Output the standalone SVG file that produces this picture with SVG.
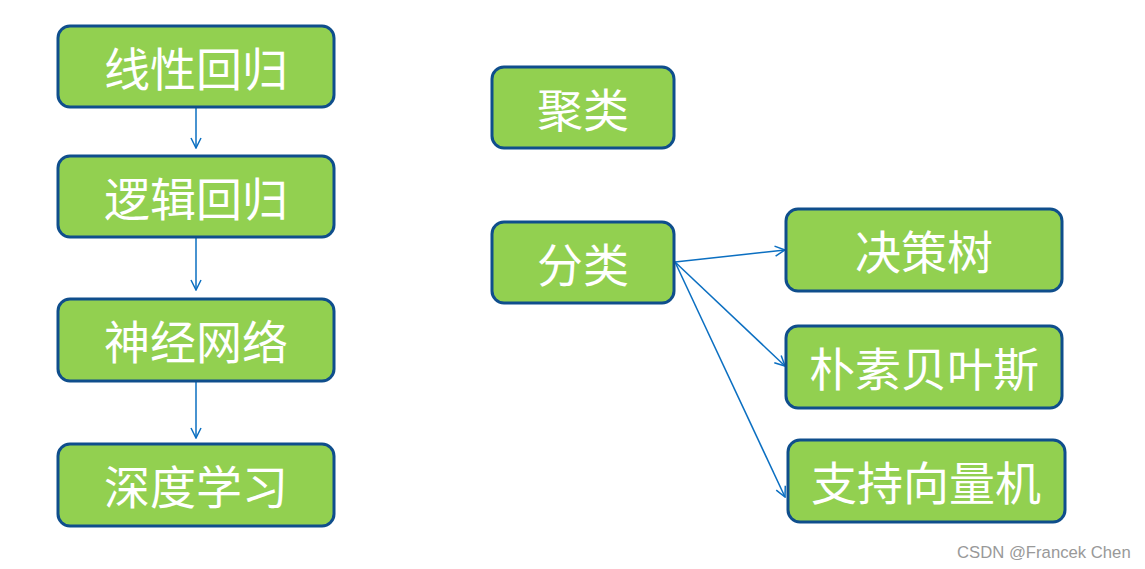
<svg xmlns="http://www.w3.org/2000/svg" width="1145" height="569" viewBox="0 0 1145 569">
<style>
.node rect{fill:#92D050;stroke:#0F4E8C;stroke-width:3}
.node text{fill:#FFFFFF;font-family:"Noto Sans CJK SC","Noto Sans CJK JP",sans-serif;font-size:46px;text-anchor:middle;dominant-baseline:central}
.conn line{stroke:#0B6FC1;stroke-width:1.5;fill:none}
.wm{fill:#999999;font-family:"Liberation Sans",Arial,sans-serif;font-size:16.7px}
</style>
<defs>
<marker id="arr" viewBox="0 0 12 12" refX="11" refY="6" markerWidth="12" markerHeight="12" markerUnits="userSpaceOnUse" orient="auto">
<path d="M1,1 L11,6 L1,11" fill="none" stroke="#0B6FC1" stroke-width="1.5"/>
</marker>
</defs>
<rect width="1145" height="569" fill="#FFFFFF"/>
<g id="connectors" class="conn">
<line x1="196" y1="108" x2="196" y2="148" marker-end="url(#arr)"/>
<line x1="196" y1="238" x2="196" y2="290" marker-end="url(#arr)"/>
<line x1="196" y1="382" x2="196" y2="438" marker-end="url(#arr)"/>
<line x1="675" y1="262" x2="785" y2="250" marker-end="url(#arr)"/>
<line x1="675" y1="262" x2="785" y2="366" marker-end="url(#arr)"/>
<line x1="675" y1="262" x2="785" y2="497" marker-end="url(#arr)"/>
</g>
<g id="n1" class="node"><rect x="58" y="26" width="276" height="81" rx="12"/><text x="196" y="66">线性回归</text></g>
<g id="n2" class="node"><rect x="58" y="156" width="276" height="81" rx="12"/><text x="196" y="196">逻辑回归</text></g>
<g id="n3" class="node"><rect x="58" y="299" width="276" height="82" rx="12"/><text x="196" y="339">神经网络</text></g>
<g id="n4" class="node"><rect x="58" y="444" width="276" height="82" rx="12"/><text x="196" y="484">深度学习</text></g>
<g id="n5" class="node"><rect x="492" y="67" width="182" height="81" rx="12"/><text x="583" y="107">聚类</text></g>
<g id="n6" class="node"><rect x="492" y="222" width="182" height="81" rx="12"/><text x="583" y="262">分类</text></g>
<g id="n7" class="node"><rect x="786" y="209" width="276" height="82" rx="12"/><text x="924" y="249">决策树</text></g>
<g id="n8" class="node"><rect x="786" y="326" width="276" height="82" rx="12"/><text x="924" y="366">朴素贝叶斯</text></g>
<g id="n9" class="node"><rect x="788" y="440" width="277" height="82" rx="12"/><text x="926" y="480">支持向量机</text></g>
<text class="wm" x="957" y="558">CSDN @Francek Chen</text>
</svg>
